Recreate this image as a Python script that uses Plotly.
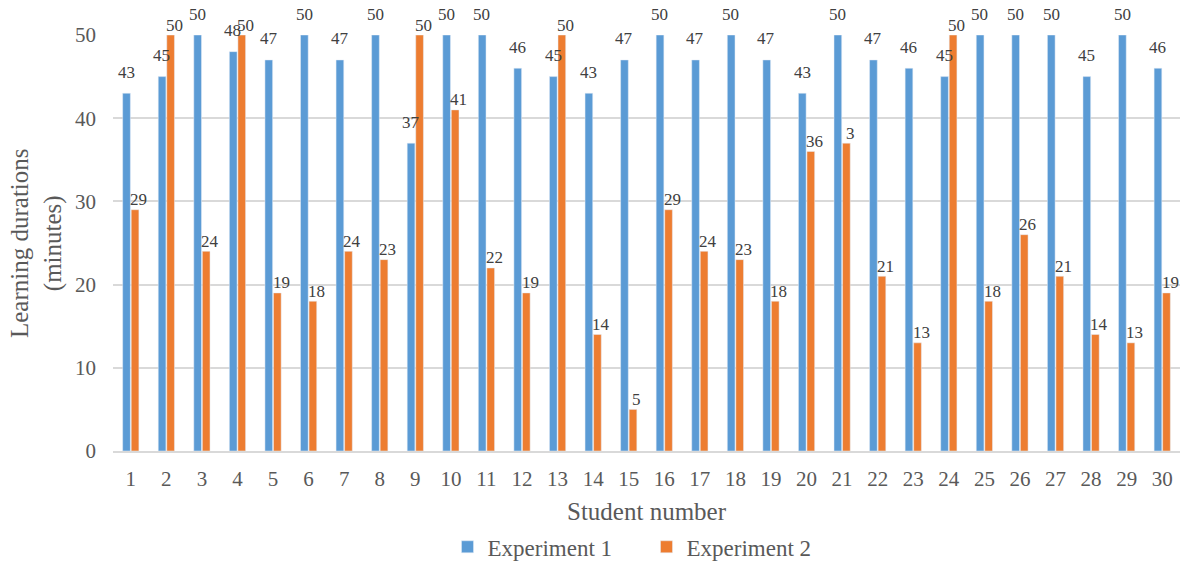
import plotly.graph_objects as go

students = list(range(1, 31))
exp1 = [43, 45, 50, 48, 47, 50, 47, 50, 37, 50, 50, 46, 45, 43, 47,
        50, 47, 50, 47, 43, 50, 47, 46, 45, 50, 50, 50, 45, 50, 46]
exp2 = [29, 50, 24, 50, 19, 18, 24, 23, 50, 41, 22, 19, 50, 14, 5,
        29, 24, 23, 18, 36, 37, 21, 13, 50, 18, 26, 21, 14, 13, 19]
exp1_labels = [str(v) for v in exp1]
exp2_labels = [str(v) for v in exp2]
exp2_labels[20] = "3"  # label shown truncated in the original

BLUE = "#5B9BD5"
ORANGE = "#ED7D31"
FONT = "'Liberation Serif', 'Times New Roman', serif"
GREY = "#595959"

fig = go.Figure()
fig.add_trace(go.Bar(x=students, y=exp1, name="Experiment 1", marker_color=BLUE))
fig.add_trace(go.Bar(x=students, y=exp2, name="Experiment 2", marker_color=ORANGE))

annotations = []
for s, v, t in zip(students, exp1, exp1_labels):
    annotations.append(dict(x=s, y=v, xref="x", yref="y", text=t, showarrow=False,
                            xshift=-4.5, yshift=21, yanchor="middle", xanchor="center",
                            font=dict(family=FONT, size=17, color="#404040")))
for s, v, t in zip(students, exp2, exp2_labels):
    annotations.append(dict(x=s, y=v, xref="x", yref="y", text=t, showarrow=False,
                            xshift=8, yshift=10, yanchor="middle", xanchor="center",
                            font=dict(family=FONT, size=17, color="#404040")))
annotations.append(dict(x=0, y=0.5, xref="paper", yref="paper",
                        text="Learning durations<br>(minutes)", textangle=-90,
                        showarrow=False, xshift=-77, xanchor="center", yanchor="middle",
                        font=dict(family=FONT, size=25, color=GREY)))

fig.update_layout(
    width=1182, height=562,
    margin=dict(l=113, r=2, t=35, b=111, autoexpand=False),
    paper_bgcolor="white", plot_bgcolor="white",
    barmode="group", bargap=0.52, bargroupgap=0.1,
    font=dict(family=FONT, color=GREY),
    showlegend=True,
    legend=dict(orientation="h", x=0.5, xanchor="center", y=0.027, yanchor="middle",
                yref="container", entrywidth=154,
                font=dict(family=FONT, size=23, color=GREY), traceorder="normal"),
    annotations=annotations,
)
fig.update_xaxes(
    range=[0.5, 30.5], tickmode="array", tickvals=students,
    ticktext=[str(s) for s in students], automargin=False,
    showgrid=False, showline=True, linecolor="#D9D9D9", linewidth=2,
    ticks="", tickfont=dict(family=FONT, size=21, color=GREY), ticklabelstandoff=8,
    title=dict(text="Student number", font=dict(family=FONT, size=25, color=GREY), standoff=26),
    zeroline=False,
)
fig.update_yaxes(
    range=[0, 50], tickvals=[0, 10, 20, 30, 40, 50], automargin=False,
    showgrid=True, gridcolor="#D9D9D9", gridwidth=1.5,
    showline=False, zeroline=False, ticks="",
    tickfont=dict(family=FONT, size=21, color=GREY), ticklabelstandoff=16,
)
fig.write_html("out.html")
